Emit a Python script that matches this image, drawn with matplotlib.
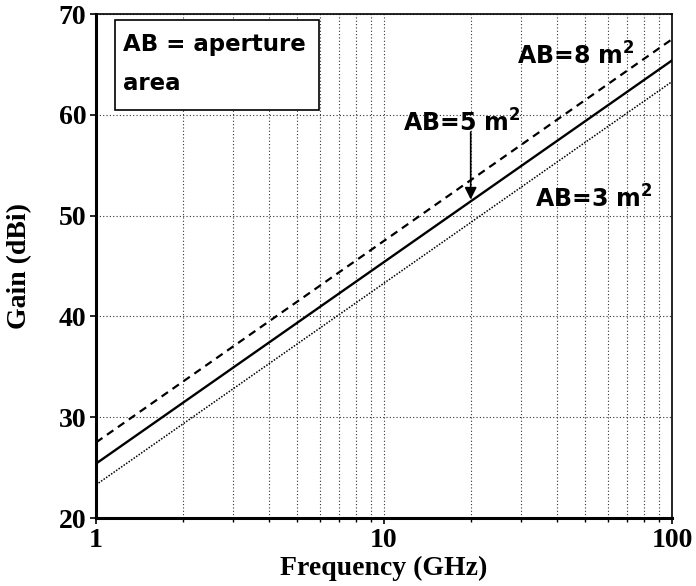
import numpy as np
import matplotlib.pyplot as plt
from matplotlib.patches import Rectangle

# Gain of an aperture antenna vs frequency
freq_ghz = [1, 10, 100]
gain_8m2 = [27.5, 47.5, 67.5]
gain_5m2 = [25.4, 45.4, 65.4]
gain_3m2 = [23.3, 43.3, 63.3]

yticks = [20, 30, 40, 50, 60, 70]
xticks = [1, 10, 100]
xtick_labels = ['1', '10', '100']

serif = 'Liberation Serif'
sans = 'DejaVu Sans'
plt.rcParams['mathtext.fontset'] = 'dejavusans'

fig = plt.figure(figsize=(6.96, 5.86), dpi=100)
ax = fig.add_axes([0.138, 0.116, 0.8275, 0.86])

ax.plot(freq_ghz, gain_8m2, color='black', lw=1.6, ls=(0, (3.5, 2.5)))
ax.plot(freq_ghz, gain_5m2, color='black', lw=1.7, ls='-')
ax.plot(freq_ghz, gain_3m2, color='black', lw=1.1, ls=(0, (1, 1)))

ax.set_xscale('log')
ax.set_xlim(1, 100)
ax.set_ylim(20, 70)
ax.set_xticks(xticks)
ax.set_xticklabels(xtick_labels)
ax.set_yticks(yticks)

ax.grid(True, which='major', ls=(0, (1, 2)), color='#333333', lw=0.8)
ax.grid(True, which='minor', axis='x', ls=(0, (1, 2)), color='#333333', lw=0.8)

for lab in ax.get_xticklabels() + ax.get_yticklabels():
    lab.set_fontfamily(serif)
    lab.set_fontweight('bold')
    lab.set_fontsize(20)
ax.tick_params(axis='both', which='major', length=4, width=1.2, pad=3)
ax.tick_params(axis='x', which='minor', length=3, width=1)

ax.spines['left'].set_linewidth(2.2)
ax.spines['bottom'].set_linewidth(2.2)
ax.spines['top'].set_linewidth(1.2)
ax.spines['right'].set_linewidth(1.2)

ax.set_xlabel('Frequency (GHz)', fontfamily=serif, fontweight='bold', fontsize=20, labelpad=2)
ax.set_ylabel('Gain (dBi)', fontfamily=serif, fontweight='bold', fontsize=20, labelpad=19)

# legend-like box
ax.add_patch(Rectangle((0.033, 0.81), 0.354, 0.178, transform=ax.transAxes,
                       facecolor='white', edgecolor='black', lw=1.2, zorder=5))
ax.text(0.047, 0.94, 'AB = aperture', transform=ax.transAxes, ha='left', va='center',
        fontfamily=sans, fontweight='bold', fontsize=16.5, zorder=6)
ax.text(0.047, 0.862, 'area', transform=ax.transAxes, ha='left', va='center',
        fontfamily=sans, fontweight='bold', fontsize=16.5, zorder=6)

# curve labels
lab_kw = dict(ha='left', va='center', fontfamily=sans, fontweight='bold', fontsize=17)
ax.text(29, 65.8, r'AB=8 m$^\mathbf{2}$', **lab_kw)
ax.text(11.6, 59.2, r'AB=5 m$^\mathbf{2}$', **lab_kw)
ax.text(33.4, 51.7, r'AB=3 m$^\mathbf{2}$', **lab_kw)
ax.annotate('', xy=(20, 51.6), xytext=(20, 58.3),
            arrowprops=dict(arrowstyle='-|>', color='black', lw=1.2,
                            mutation_scale=18, shrinkA=0, shrinkB=0))

fig.savefig('out.png', dpi=100)
